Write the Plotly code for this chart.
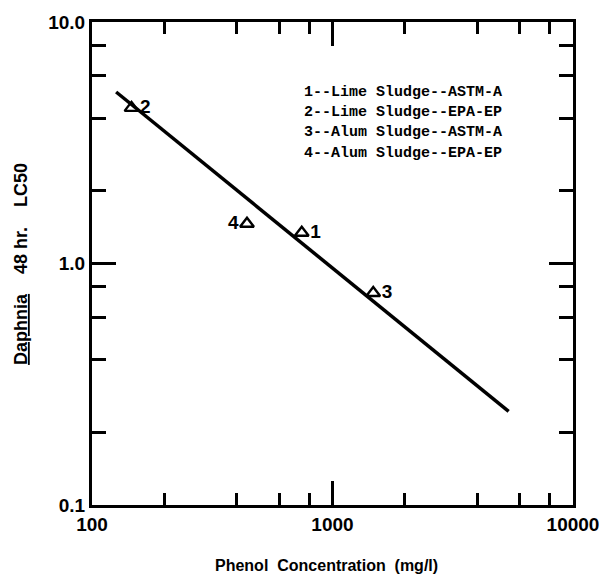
import plotly.graph_objects as go

# Data
point_labels = ["1", "2", "3", "4"]
point_x = [745, 146, 1477, 441]
point_y = [1.34, 4.41, 0.755, 1.46]
label_pos = ["middle right", "middle right", "middle right", "middle left"]

line_x = [126, 5400]
line_y = [5.13, 0.244]

legend_lines = [
    "1--Lime Sludge--ASTM-A",
    "2--Lime Sludge--EPA-EP",
    "3--Alum Sludge--ASTM-A",
    "4--Alum Sludge--EPA-EP",
]

x_major = [100, 1000, 10000]
x_major_text = ["100", "1000", "10000"]
x_minor = [200, 400, 600, 800, 2000, 4000, 6000, 8000]
y_major = [0.1, 1, 10]
y_major_text = ["0.1", "1.0", "10.0"]
y_minor = [0.2, 0.4, 0.6, 0.8, 2, 4, 6, 8]

TICKFONT = dict(family="Liberation Sans", size=19, color="black", weight="bold")

fig = go.Figure()
fig.add_trace(go.Scatter(x=line_x, y=line_y, mode="lines",
                         line=dict(color="black", width=3.5), showlegend=False))
fig.add_trace(go.Scatter(x=point_x, y=point_y, mode="markers+text",
                         text=point_labels, textposition=label_pos,
                         textfont=dict(family="Liberation Sans", size=19, color="black", weight="bold"),
                         marker=dict(symbol="triangle-up-open", size=12, color="black",
                                     line=dict(width=2.4, color="black")),
                         showlegend=False))

axis_common = dict(showgrid=False, zeroline=False, showline=True, linecolor="black",
                   linewidth=3, ticks="inside", tickcolor="black", tickwidth=3,
                   ticklen=24, mirror="allticks", tickfont=TICKFONT)

fig.update_xaxes(type="log", range=[2, 4], tickvals=x_major, ticktext=x_major_text,
                 minor=dict(tickvals=x_minor, ticks="inside", ticklen=12,
                            tickwidth=3, tickcolor="black"),
                 **axis_common)
fig.update_yaxes(type="log", range=[-1, 1], tickvals=y_major, ticktext=y_major_text,
                 minor=dict(tickvals=y_minor, ticks="inside", ticklen=14,
                            tickwidth=3, tickcolor="black"),
                 **axis_common)

legend_y = [87, 107, 127, 148]
for txt, py in zip(legend_lines, legend_y):
    fig.add_annotation(text=txt, xref="paper", yref="paper",
                       x=(303 - 92) / (576 - 92), y=1 - (py - 15) / (505 - 15),
                       xanchor="left", yanchor="middle", showarrow=False,
                       font=dict(family="Liberation Mono", size=15, color="black", weight="bold"))

fig.add_annotation(text="Phenol  Concentration  (mg/l)", xref="paper", yref="paper",
                   x=(328 - 92) / (576 - 92), y=1 - (566 - 15) / (505 - 15),
                   xanchor="center", yanchor="middle", showarrow=False,
                   font=dict(family="Liberation Sans", size=16, color="black", weight="bold"))
fig.add_annotation(text="<u>Daphnia</u>    48 hr.    LC50", xref="paper", yref="paper",
                   x=(20 - 92) / (576 - 92), y=1 - (260 - 15) / (505 - 15),
                   xanchor="center", yanchor="middle", showarrow=False, textangle=-90,
                   font=dict(family="Liberation Sans", size=18, color="black", weight="bold"))

fig.update_layout(width=611, height=584, margin=dict(l=92, r=35, t=15, b=79),
                  plot_bgcolor="white", paper_bgcolor="white")

fig.write_html("out.html")
